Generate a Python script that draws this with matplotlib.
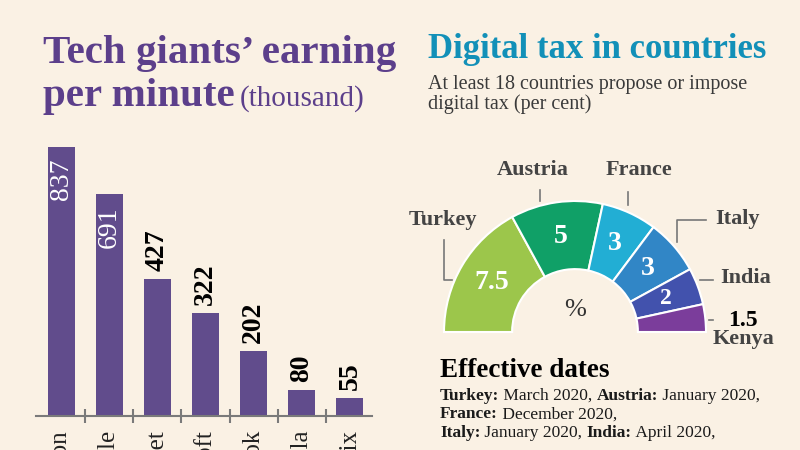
import matplotlib
matplotlib.use('Agg')
import matplotlib.pyplot as plt
from matplotlib.lines import Line2D
import numpy as np

# data
companies = ['Amazon', 'Apple', 'Alphabet', 'Microsoft', 'Facebook', 'Tesla', 'Netflix']
earnings = [837, 691, 427, 322, 202, 80, 55]

countries = ['Turkey', 'Austria', 'France', 'Italy', 'India', 'Kenya']
tax_rates = [7.5, 5, 3, 3, 2, 1.5]
tax_colors = ['#9cc64b', '#10a067', '#22aed4', '#3186c6', '#4252ad', '#7b3d9b']

date_lines = [
    [('Turkey:', 'bold'), (' March 2020, ', 'normal'), ('Austria:', 'bold'), (' January 2020,', 'normal')],
    [('France:', 'bold'), (' December 2020,', 'normal')],
    [('Italy:', 'bold'), (' January 2020, ', 'normal'), ('India:', 'bold'), (' April 2020,', 'normal')],
]

BG = '#faf1e4'
BAR = '#614c8c'
PURPLE = '#5c3f8b'
TEAL = '#1290b8'
SERIF = 'Liberation Serif'

W, H = 800, 450
fig = plt.figure(figsize=(8, 4.5), dpi=100)
fig.patch.set_facecolor(BG)


def fx(x):
    return x / W


def fy(y):
    return 1 - y / H


def runs(x, y, parts, **kw):
    # draw pieces of text one after another on the same baseline
    r = fig.canvas.get_renderer()
    for s, w in parts:
        t = fig.text(fx(x), fy(y), s, fontweight=w, va='baseline', **kw)
        x += t.get_window_extent(r).width
    return x


# ---- bar chart ----
ax = fig.add_axes([36 / W, 34 / H, 336 / W, 276 / H])
ax.set_facecolor('none')
xs = np.arange(len(companies))
ax.bar(xs, earnings, width=0.56, color=BAR)
ax.set_xlim(-0.52, 6.46)
ax.set_ylim(0, 276 / 0.3214)
for s in ['top', 'left', 'right']:
    ax.spines[s].set_visible(False)
ax.spines['bottom'].set_color('#7a7a7a')
ax.spines['bottom'].set_linewidth(1.5)
ax.set_yticks([])
ax.set_xticks(xs)
ax.set_xticklabels(companies, rotation=90, fontsize=18, family=SERIF, color='#222222')
ax.tick_params(axis='x', which='major', length=0, pad=10)
ax.set_xticks(xs[:-1] + 0.5, minor=True)
ax.tick_params(axis='x', which='minor', direction='inout', length=10, width=1.5, color='#7a7a7a')

for i, v in enumerate(earnings):
    inside = v > 600
    ax.annotate(str(v), (i, v), xytext=(0, -12 if inside else 8), textcoords='offset pixels',
                rotation=90, ha='center', va='top' if inside else 'bottom',
                color='white' if inside else 'black', fontsize=20, family=SERIF,
                fontweight='normal' if inside else 'bold', annotation_clip=False)

# ---- half donut ----
R = 131
pax = fig.add_axes([(575 - R) / W, (118 - R) / H, 2 * R / W, 2 * R / H])
wedges, _ = pax.pie(tax_rates + [sum(tax_rates)], colors=tax_colors + ['none'],
                    startangle=180, counterclock=False, radius=1,
                    wedgeprops=dict(width=0.52, edgecolor='white', linewidth=1.5))
wedges[-1].set_visible(False)
pax.set_xlim(-1, 1)
pax.set_ylim(-1, 1)

for w, v in zip(wedges[:5], tax_rates[:5]):
    mid = np.deg2rad((w.theta1 + w.theta2) / 2)
    pax.text(0.74 * np.cos(mid), 0.74 * np.sin(mid), f'{v:g}', ha='center', va='center',
             color='white', fontsize=20 if v > 2 else 17, fontweight='bold', family=SERIF)
pax.text(0, 0.17, '%', ha='center', va='center', fontsize=19, color='#333333', family=SERIF)

lab = dict(fontsize=16, fontweight='bold', color='#444444', family=SERIF, ha='center', va='center')
label_pos = {'Turkey': (443, 220), 'Austria': (533, 170), 'France': (639, 170),
             'Italy': (738, 219), 'India': (746, 278), 'Kenya': (743, 339)}
for c in countries:
    x, y = label_pos[c]
    fig.text(fx(x), fy(y), c, **lab)
fig.text(fx(743), fy(320), f'{tax_rates[-1]:g}', fontsize=17, fontweight='bold',
         color='black', family=SERIF, ha='center', va='center')

leaders = [[(444, 240), (444, 280), (452, 280)],
           [(540, 190), (540, 201)],
           [(628, 192), (628, 205)],
           [(677, 242), (677, 220), (706, 220)],
           [(700, 280), (713, 280)],
           [(709, 320), (713, 320)]]
for pts in leaders:
    fig.add_artist(Line2D([fx(p[0]) for p in pts], [fy(p[1]) for p in pts],
                          color='#777777', lw=1.2))

# ---- titles ----
fig.text(fx(43), fy(63), 'Tech giants’ earning', fontsize=29.5, fontweight='bold',
         color=PURPLE, family=SERIF, va='baseline')
fig.text(fx(43), fy(106), 'per minute', fontsize=29.5, fontweight='bold',
         color=PURPLE, family=SERIF, va='baseline')
fig.text(fx(240), fy(106), '(thousand)', fontsize=21, color=PURPLE, family=SERIF, va='baseline')

fig.text(fx(428), fy(58), 'Digital tax in countries', fontsize=25, fontweight='bold',
         color=TEAL, family=SERIF, va='baseline')
fig.text(fx(428), fy(89), 'At least 18 countries propose or impose', fontsize=14.5,
         color='#3a3a3a', family=SERIF, va='baseline')
fig.text(fx(428), fy(109), 'digital tax (per cent)', fontsize=14.5,
         color='#3a3a3a', family=SERIF, va='baseline')

fig.text(fx(440), fy(377), 'Effective dates', fontsize=19.5, fontweight='bold',
         color='black', family=SERIF, va='baseline')
for k, parts in enumerate(date_lines):
    runs(440, 400 + 18.5 * k, parts, fontsize=12.5, color='#1a1a1a', family=SERIF)

fig.savefig('out.png', dpi=100, facecolor=BG)
